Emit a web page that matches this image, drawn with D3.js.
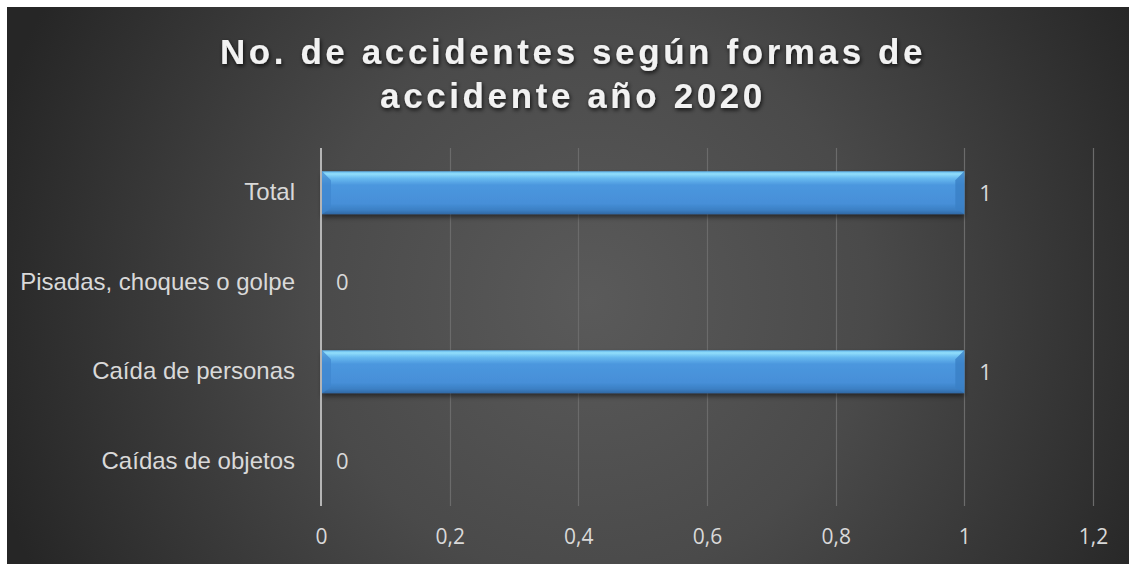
<!DOCTYPE html>
<html><head><meta charset="utf-8">
<script src="https://cdn.jsdelivr.net/npm/d3@7/dist/d3.min.js"></script>
<style>html,body{margin:0;padding:0;background:#fff;}svg{display:block;}</style>
</head><body>
<script>
const categories = ["Total", "Pisadas, choques o golpe", "Caída de personas", "Caídas de objetos"];
const values = [1, 0, 1, 0];
const ticks = [0, 0.2, 0.4, 0.6, 0.8, 1, 1.2];
const titleLines = ["No. de accidentes según formas de", "accidente año 2020"];

const W = 1129, H = 564;
const svg = d3.select("body").append("svg").attr("width", W).attr("height", H);
const defs = svg.append("defs");

const bg = defs.append("radialGradient").attr("id","bg")
  .attr("gradientUnits","userSpaceOnUse").attr("cx",590).attr("cy",300).attr("r",620);
bg.append("stop").attr("offset","0%").attr("stop-color","#5a5a5a");
bg.append("stop").attr("offset","45%").attr("stop-color","#4a4a4a");
bg.append("stop").attr("offset","100%").attr("stop-color","#262626");

const bar = defs.append("linearGradient").attr("id","bar").attr("x1",0).attr("y1",0).attr("x2",0).attr("y2",1);
[["0%","#5fb3ea"],["6%","#92defb"],["16%","#68bbf0"],["32%","#4c97de"],["75%","#468fd8"],["90%","#3c80c4"],["100%","#3068a4"]]
  .forEach(([o,c]) => bar.append("stop").attr("offset",o).attr("stop-color",c));

const sh = defs.append("filter").attr("id","shadow").attr("x","-10%").attr("y","-30%").attr("width","120%").attr("height","180%");
sh.append("feDropShadow").attr("dx",0).attr("dy",3).attr("stdDeviation",2.5).attr("flood-color","#000").attr("flood-opacity",0.5);

const tsh = defs.append("filter").attr("id","tshadow").attr("x","-5%").attr("y","-20%").attr("width","110%").attr("height","150%");
tsh.append("feDropShadow").attr("dx",1).attr("dy",2).attr("stdDeviation",2).attr("flood-color","#000").attr("flood-opacity",0.8);

svg.append("rect").attr("x",7).attr("y",7).attr("width",W-7).attr("height",H-7).attr("fill","url(#bg)");

const m = {left:321, right:1093, top:148, bottom:506};
const x = d3.scaleLinear().domain([0,1.2]).range([m.left, m.right]);
const y = d3.scaleBand().domain(categories).range([m.top, m.bottom]).paddingInner(0.52).paddingOuter(0.26);

// gridlines
svg.append("g").selectAll("line").data(ticks.slice(1)).join("line")
  .attr("x1", d => Math.round(x(d))+0.5).attr("x2", d => Math.round(x(d))+0.5)
  .attr("y1", m.top).attr("y2", m.bottom)
  .attr("stroke","#6b6b6b").attr("stroke-width",1.2);

// x axis tick labels
const xAxis = d3.axisBottom(x).tickValues(ticks).tickSize(0).tickPadding(0)
  .tickFormat(d => d3.format("~g")(d).replace(".", ","));
const gx = svg.append("g").attr("transform", `translate(0,${m.bottom})`).call(xAxis);
gx.select(".domain").remove();
gx.selectAll("text").attr("fill","#d9d9d9").attr("font-family","Open Sans, Liberation Sans, sans-serif")
  .attr("font-size",21).attr("y",31).attr("dy","0.35em");

// bars
const bars = svg.append("g").selectAll("g").data(categories.map((c,i)=>({c, v:values[i]}))).join("g");
bars.filter(d => d.v > 0).append("rect")
  .attr("x", x(0)+1).attr("y", d => y(d.c))
  .attr("width", d => x(d.v)-x(0)-1).attr("height", y.bandwidth())
  .attr("fill","url(#bar)").attr("filter","url(#shadow)");
// bevel triangles
bars.filter(d => d.v > 0).append("path")
  .attr("d", d => { const x0 = x(0)+1, y0 = y(d.c), h = y.bandwidth();
     return `M${x0},${y0}L${x0+9},${y0+9}L${x0+9},${y0+h-6}L${x0},${y0+h}Z`; })
  .attr("fill","#3f86cf").attr("opacity",0.7);
bars.filter(d => d.v > 0).append("path")
  .attr("d", d => { const x1 = x(d.v), y0 = y(d.c), h = y.bandwidth();
     return `M${x1},${y0}L${x1-9},${y0+9}L${x1-9},${y0+h-6}L${x1},${y0+h}Z`; })
  .attr("fill","#3a7fc6").attr("opacity",0.8);

// axis line
svg.append("line").attr("x1", m.left).attr("x2", m.left).attr("y1", m.top).attr("y2", m.bottom)
  .attr("stroke","#b5b5b5").attr("stroke-width",2);

// category labels
const yAxis = d3.axisLeft(y).tickSize(0).tickPadding(26);
const gy = svg.append("g").attr("transform", `translate(${m.left},0)`).call(yAxis);
gy.select(".domain").remove();
gy.selectAll("text").attr("fill","#d9d9d9").attr("font-family","Liberation Sans, Arial, sans-serif").attr("font-size",24);

// value labels
svg.append("g").selectAll("text").data(categories.map((c,i)=>({c, v:values[i]}))).join("text")
  .attr("x", d => x(d.v) + 15).attr("y", d => y(d.c) + y.bandwidth()/2)
  .attr("dy","0.36em").attr("fill","#d9d9d9")
  .attr("font-family","Open Sans, Liberation Sans, sans-serif").attr("font-size",22)
  .text(d => d.v);

// title
svg.append("g").selectAll("text").data(titleLines).join("text")
  .attr("x", 573).attr("y", (d,i) => 64 + i*44)
  .attr("text-anchor","middle").attr("fill","#f2f2f2")
  .attr("font-family","Liberation Sans, Arial, sans-serif").attr("font-weight","bold")
  .attr("font-size",35).attr("letter-spacing",3.6)
  .attr("filter","url(#tshadow)")
  .text(d => d);
</script>
</body></html>
